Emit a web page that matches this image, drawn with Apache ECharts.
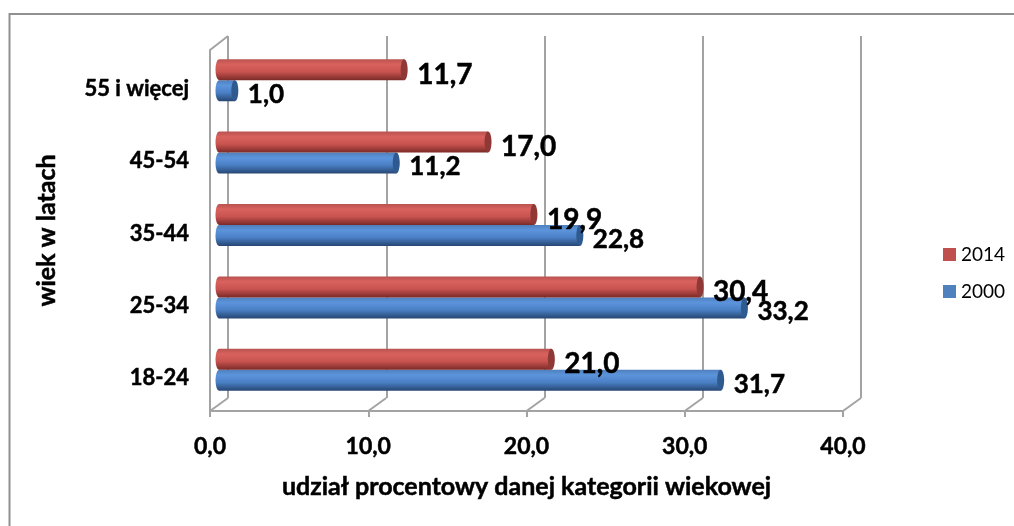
<!DOCTYPE html>
<html><head><meta charset="utf-8">
<style>html,body{margin:0;padding:0;background:#fff}#c{width:1014px;height:526px}</style>
<script src="https://cdn.jsdelivr.net/npm/echarts@6/dist/echarts.min.js"></script>
</head><body><div id="c"></div>
<script>
const categories = ['18-24','25-34','35-44','45-54','55 i więcej'];
const values2014 = [21.0,30.4,19.9,17.0,11.7];
const values2000 = [31.7,33.2,22.8,11.2,1.0];
const ticks = [0,10,20,30,40];
const FONT = 'Lato, "Open Sans", sans-serif';
const fmt = v => v.toFixed(1).replace('.', ',');
const chart = echarts.init(document.getElementById('c'), null, {renderer:'canvas'});
const heavy = {textBorderColor:'#000',textBorderWidth:0.5};

function grad(p){
  return new echarts.graphic.LinearGradient(0,0,0,1,[
    {offset:0,color:p[0]},{offset:0.25,color:p[1]},{offset:0.6,color:p[2]},{offset:1,color:p[3]}]);
}
function cyl(palette, sign, labelDy, fs){
  return function(params, api){
    const v = api.value(0), c = api.coord([v, api.value(1)]), x0 = api.coord([0, api.value(1)])[0];
    const h = 21, cy = c[1] + sign*10.5;
    const y = cy - h/2, rx = 3.5, ry = h/2;
    return {type:'group', children:[
      {type:'path', shape:{pathData:
        'M'+x0+' '+y+' L'+c[0]+' '+y+' L'+c[0]+' '+(y+h)+' L'+x0+' '+(y+h)+
        ' A'+rx+' '+ry+' 0 0 1 '+x0+' '+y+' Z'},
        style:{fill:grad(palette)}},
      {type:'ellipse', shape:{cx:c[0],cy:cy,rx:rx,ry:ry}, style:{fill:palette[4]}},
      {type:'text', z2:10, style:{text:fmt(v), x:c[0]+13, y:cy+labelDy, fill:'#000',
        stroke:'#000', lineWidth:0.5,
        font:'bold '+fs+'px '+FONT, textVerticalAlign:'middle', textAlign:'left'}}
    ]};
  };
}
const redP = ['#b9524f','#d9625e','#c8534f','#7a2a28','#8f3835'];
const bluP = ['#4f80bd','#5c94dc','#4a7fc4','#264672','#2f5a90'];
const gray = '#a3a3a3';

chart.setOption({
  animation:false,
  textStyle:{fontFamily:FONT},
  graphic:[{type:'polyline',shape:{points:[[1014,14],[9.5,14],[9.5,526]]},style:{fill:'none',stroke:'#909090',lineWidth:2},silent:true}],
  legend:{left:943,top:245,orient:'vertical',itemWidth:13,itemHeight:13,itemGap:18,padding:0,
    data:['2014','2000'],textStyle:{fontSize:19,color:'#000',fontFamily:FONT},
    icon:'rect'},
  grid:[
    {left:210,top:50,width:633,height:361},
    {left:228,top:36,width:633,height:362},
    {left:219,top:44,width:633,height:362},
    {left:210,top:53,width:633,height:361}
  ],
  xAxis:[
    {gridIndex:0,type:'value',min:0,max:40,interval:10,
      axisLine:{show:true,onZero:false,lineStyle:{color:gray,width:2}},
      axisTick:{show:true,length:6,lineStyle:{color:gray,width:2}},
      splitLine:{show:false},
      axisLabel:{margin:24,fontSize:23,fontWeight:'bold',color:'#000',fontFamily:FONT,formatter:v=>fmt(v),...heavy},
      name:'udział procentowy danej kategorii wiekowej',nameLocation:'middle',nameGap:63,
      nameTextStyle:{fontSize:25,fontWeight:'bold',color:'#000',fontFamily:FONT,...heavy}},
    {gridIndex:1,type:'value',min:0,max:40,interval:10,axisLine:{show:false},axisTick:{show:false},axisLabel:{show:false},
      splitLine:{show:true,lineStyle:{color:gray,width:2}}},
    {gridIndex:2,type:'value',min:0,max:40,interval:10,show:false},
    {gridIndex:3,type:'value',min:0,max:40,interval:10,show:false}
  ],
  yAxis:[
    {gridIndex:0,type:'category',data:categories,
      axisLine:{show:true,onZero:false,lineStyle:{color:gray,width:2}},
      axisTick:{show:false},axisLabel:{show:false},
      name:'wiek w latach',nameLocation:'middle',nameGap:151,nameRotate:90,
      nameTextStyle:{fontSize:25,fontWeight:'bold',color:'#000',fontFamily:FONT,...heavy}},
    {gridIndex:1,type:'category',data:categories,show:false},
    {gridIndex:2,type:'category',data:categories,show:false},
    {gridIndex:3,type:'category',data:categories,
      axisLine:{show:false},axisTick:{show:false},
      axisLabel:{margin:21,fontSize:22,fontWeight:'bold',color:'#000',fontFamily:FONT,...heavy}}
  ],
  series:[
    {type:'custom',name:'depth',silent:true,xAxisIndex:0,yAxisIndex:0,z:1,
      data:ticks.map(t=>[t]),encode:{x:0},
      renderItem:(p,api)=>{
        const x=api.coord([api.value(0),0])[0], b=411;
        return {type:'polyline',shape:{points:[[x,b],[x+18,b-13]]},style:{stroke:gray,lineWidth:2,fill:'none'}};
      }},
    {type:'custom',name:'wall',silent:true,xAxisIndex:0,yAxisIndex:0,z:1,
      data:[[0]],encode:{x:0},
      renderItem:(p,api)=>{
        const x=api.coord([0,0])[0];
        return {type:'polyline',shape:{points:[[x,50],[x+18,36]]},style:{stroke:gray,lineWidth:2,fill:'none'}};
      }},
    {type:'custom',name:'2000',xAxisIndex:2,yAxisIndex:2,z:3,itemStyle:{color:'#4f81bd'},
      data:values2000.map((v,i)=>[v,i]),encode:{x:0,y:1},renderItem:cyl(bluP,1,4,26)},
    {type:'custom',name:'2014',xAxisIndex:2,yAxisIndex:2,z:4,itemStyle:{color:'#c0504d'},
      data:values2014.map((v,i)=>[v,i]),encode:{x:0,y:1},renderItem:cyl(redP,-1,5,28)}
  ]
});
</script></body></html>
